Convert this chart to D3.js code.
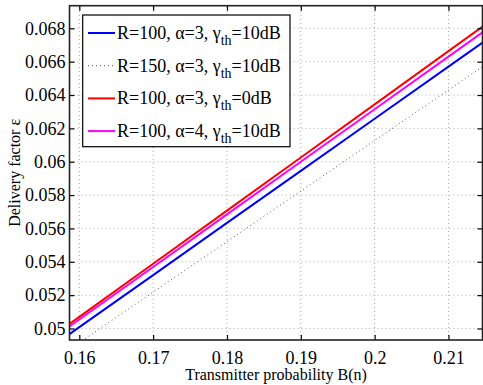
<!DOCTYPE html>
<html>
<head>
<meta charset="utf-8">
<script src="https://cdn.jsdelivr.net/npm/d3@7"></script>
<style>
body { margin: 0; background: #fff; }
text { font-family: "Liberation Serif", "DejaVu Serif", serif; fill: #000; }
</style>
</head>
<body>
<script>
var xValues = [0.155, 0.16, 0.17, 0.18, 0.19, 0.2, 0.21, 0.22];
var blueValues = [0.04851, 0.05008, 0.05320, 0.05633, 0.05945, 0.06258, 0.06570, 0.06883];
var dottedValues = [0.04763, 0.04915, 0.05218, 0.05521, 0.05824, 0.06127, 0.06430, 0.06733];
var redValues = [0.04911, 0.05070, 0.05388, 0.05707, 0.06025, 0.06344, 0.06663, 0.06981];
var magentaValues = [0.04896, 0.05054, 0.05369, 0.05684, 0.06000, 0.06315, 0.06630, 0.06946];
var xTicks = [0.16, 0.17, 0.18, 0.19, 0.2, 0.21];
var yTicks = [0.05, 0.052, 0.054, 0.056, 0.058, 0.06, 0.062, 0.064, 0.066, 0.068];
var seriesNames = [
	['R=100, α=3, γ', 'th', '=10dB'],
	['R=150, α=3, γ', 'th', '=10dB'],
	['R=100, α=3, γ', 'th', '=0dB'],
	['R=100, α=4, γ', 'th', '=10dB']
];

var width = 483, height = 385;
var margin = {left: 69.5, top: 5.7, right: 0.5, bottom: 45};

var series = [
	{values: blueValues, color: '#0000ff', width: 2, dash: null},
	{values: dottedValues, color: '#555', width: 1, dash: '1,3'},
	{values: redValues, color: '#ff0000', width: 2, dash: null},
	{values: magentaValues, color: '#ff00ff', width: 2, dash: null}
];

var svg = d3.select('body').append('svg')
	.attr('width', width)
	.attr('height', height);

var x = d3.scaleLinear()
	.domain([0.15867, 0.21461])
	.range([margin.left, width - margin.right]);

var y = d3.scaleLinear()
	.domain([0.04931, 0.069356])
	.range([height - margin.bottom, margin.top]);

svg.append('clipPath').attr('id', 'clip')
	.append('rect')
	.attr('x', margin.left).attr('y', margin.top)
	.attr('width', width - margin.left - margin.right)
	.attr('height', height - margin.top - margin.bottom);

// grid
var grid = svg.append('g').attr('stroke', '#aaa').attr('stroke-dasharray', '1,3');
grid.selectAll('.gx').data(xTicks).enter().append('line')
	.attr('x1', function(d) { return x(d); }).attr('x2', function(d) { return x(d); })
	.attr('y1', y.range()[0]).attr('y2', y.range()[1]);
grid.selectAll('.gy').data(yTicks).enter().append('line')
	.attr('y1', function(d) { return y(d); }).attr('y2', function(d) { return y(d); })
	.attr('x1', x.range()[0]).attr('x2', x.range()[1]);

// lines
var line = d3.line()
	.x(function(d, i) { return x(xValues[i]); })
	.y(function(d) { return y(d); });

svg.append('g').attr('clip-path', 'url(#clip)')
	.selectAll('path').data(series).enter().append('path')
	.attr('fill', 'none')
	.attr('stroke', function(d) { return d.color; })
	.attr('stroke-width', function(d) { return d.width; })
	.attr('stroke-dasharray', function(d) { return d.dash; })
	.attr('d', function(d) { return line(d.values); });

// axes with inward ticks
var fontSize = 18;
var xAxis = svg.append('g')
	.attr('transform', 'translate(0,' + y.range()[0] + ')')
	.call(d3.axisBottom(x).tickValues(xTicks).tickFormat(d3.format('')).tickSize(-5).tickPadding(11));
var yAxis = svg.append('g')
	.attr('transform', 'translate(' + x.range()[0] + ',0)')
	.call(d3.axisLeft(y).tickValues(yTicks).tickFormat(d3.format('')).tickSize(-5).tickPadding(4));
var xTop = svg.append('g')
	.attr('transform', 'translate(0,' + y.range()[1] + ')')
	.call(d3.axisTop(x).tickValues(xTicks).tickFormat('').tickSize(-5));
var yRight = svg.append('g')
	.attr('transform', 'translate(' + x.range()[1] + ',0)')
	.call(d3.axisRight(y).tickValues(yTicks).tickFormat('').tickSize(-5));

[xAxis, yAxis, xTop, yRight].forEach(function(g) {
	g.select('.domain').remove();
	g.selectAll('line').attr('stroke', '#000').attr('stroke-width', 1.2);
	g.selectAll('text').attr('font-size', fontSize);
});

svg.append('rect')
	.attr('x', x.range()[0]).attr('y', y.range()[1])
	.attr('width', x.range()[1] - x.range()[0])
	.attr('height', y.range()[0] - y.range()[1])
	.attr('fill', 'none').attr('stroke', '#222').attr('stroke-width', 1.6);

// axis labels
svg.append('text')
	.attr('x', (x.range()[0] + x.range()[1]) / 2)
	.attr('y', 380)
	.attr('text-anchor', 'middle')
	.attr('font-size', 16)
	.text('Transmitter probability B(n)');

svg.append('text')
	.attr('transform', 'translate(20,' + (y.range()[0] + y.range()[1]) / 2 + ') rotate(-90)')
	.attr('text-anchor', 'middle')
	.attr('font-size', 16)
	.text('Delivery factor ε');

// legend
var legend = svg.append('g');
legend.append('rect')
	.attr('x', 82.7).attr('y', 15)
	.attr('width', 207.3).attr('height', 131.7)
	.attr('fill', '#fff').attr('stroke', '#000').attr('stroke-width', 1.2);

var rows = legend.selectAll('.row').data(series).enter().append('g')
	.attr('transform', function(d, i) { return 'translate(0,' + (33 + i * 32.7) + ')'; });

rows.append('line')
	.attr('x1', 88).attr('x2', 115)
	.attr('stroke', function(d) { return d.color; })
	.attr('stroke-width', function(d) { return d.width; })
	.attr('stroke-dasharray', function(d) { return d.dash; });

var labels = rows.append('text')
	.attr('x', 117)
	.attr('y', 6)
	.attr('font-size', fontSize);

labels.each(function(d, i) {
	var t = d3.select(this);
	t.append('tspan').text(seriesNames[i][0]);
	t.append('tspan').attr('font-size', 14).attr('dy', 6).text(seriesNames[i][1]);
	t.append('tspan').attr('dy', -6).text(seriesNames[i][2]);
});
</script>
</body>
</html>
